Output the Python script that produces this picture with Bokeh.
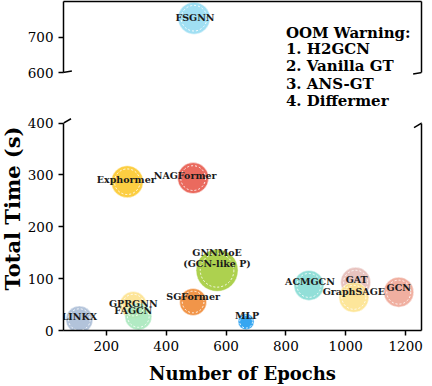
import math
from bokeh.plotting import figure
from bokeh.layouts import column, row
from bokeh.models import Range1d, LinearAxis, FixedTicker, Label, Arrow, ColumnDataSource
from bokeh.core.properties import value
from bokeh.embed import file_html
from bokeh.resources import INLINE

# ---------------- data ----------------
models = ["LINKX", "GPRGNN", "FAGCN", "Exphormer", "NAGFormer", "SGFormer",
          "GNNMoE\n(GCN-like P)", "MLP", "ACMGCN", "GAT", "GraphSAGE", "GCN", "FSGNN"]
epochs = [110, 290, 307, 270, 490, 490, 570, 667, 877, 1033, 1027, 1177, 493]
total_time = [21, 49, 27, 287, 294, 55, 116, 17, 87, 93, 64, 74, 753]
bubble_size = [27, 27, 27, 32, 31, 27, 42, 16, 30, 30, 30, 30, 32]
colors = ["#aabdd6", "#fde28e", "#a8e8bd", "#fcc92d", "#e85a4c", "#f08a35",
          "#a4cc3c", "#1f9cf0", "#86dcd4", "#e6bcb8", "#fde38f", "#eea696", "#96dcf2"]
x_ticks = [200, 400, 600, 800, 1000, 1200]
y_ticks_top = [600, 700]
y_ticks_bottom = [0, 100, 200, 300, 400]
oom_lines = ["OOM Warning:", "1. H2GCN", "2. Vanilla GT", "3. ANS-GT", "4. Differmer"]

# label pixel offsets (style)
label_dx = [0, 0, -5, -1, -8, 0, 0, 1, 1, 1, 0, 0, 1]
label_dy = [-3, -2, -6, -2, -3, -5, -12, -6, -4, -3, -6, -5, -1]

# ---------------- layout constants (pixels) ----------------
X0, X1 = 57, 1253            # x limits
LEFT_W = 24                  # strip holding the y title
MAIN_W = 432 - LEFT_W
BORDER_L, BORDER_R = 62 - LEFT_W, 11
TOP_BORDER = 1
SPLIT = 110                  # canvas y where the two panels meet
Y600, Y0_PX, Y400 = 72, 336, 123
TOP_PPU = (Y600 - TOP_BORDER) / 200.0        # px per unit, top panel
BOT_PPU = (Y0_PX - Y400) / 400.0             # px per unit, bottom panel
TOP_LO = 600 - (SPLIT - Y600) / TOP_PPU
BOT_HI = 400 + (Y400 - SPLIT) / BOT_PPU

TICK_FONT = "DejaVu Serif"
TITLE_FONT = "DejaVu Serif"


def make_source(keep):
    idx = [i for i, t in enumerate(total_time) if keep(t)]
    return ColumnDataSource(dict(
        x=[epochs[i] for i in idx], y=[total_time[i] for i in idx],
        s=[bubble_size[i] for i in idx], s_in=[bubble_size[i] * 0.8 for i in idx],
        c=[colors[i] for i in idx], name=[models[i] for i in idx],
        dx=[label_dx[i] for i in idx], dy=[label_dy[i] for i in idx]))


src_top = make_source(lambda t: t >= 600)
src_bot = make_source(lambda t: t < 600)


def style_axis(ax, ticks, bounds=None):
    ax.ticker = FixedTicker(ticks=ticks)
    if bounds is not None:
        ax.bounds = bounds
    ax.axis_line_color = "black"
    ax.axis_line_width = 1.5
    ax.major_tick_line_color = "black"
    ax.major_tick_line_width = 1.5
    ax.major_tick_out = 5
    ax.major_tick_in = 0
    ax.minor_tick_out = 0
    ax.minor_tick_in = 0
    ax.major_label_text_font = TICK_FONT
    ax.major_label_text_font_size = "13.5px"
    ax.major_label_text_color = "black"


def bare_axis(ax, bounds=None):
    ax.ticker = FixedTicker(ticks=[])
    if bounds is not None:
        ax.bounds = bounds
    ax.axis_line_color = "black"
    ax.axis_line_width = 1.5
    ax.major_tick_out = 0
    ax.major_tick_in = 0
    ax.minor_tick_out = 0
    ax.minor_tick_in = 0
    ax.major_label_standoff = 0
    ax.major_label_text_font_size = "0px"


def draw_points(p, src):
    p.scatter("x", "y", size="s", source=src, fill_color="c", fill_alpha=0.9,
              line_color="white", line_width=0.8, line_alpha=0.6)
    p.scatter("x", "y", size="s_in", source=src, fill_color=None,
              line_color="white", line_width=0.9, line_dash="2 2")
    p.text("x", "y", text="name", source=src, x_offset="dx", y_offset="dy",
           text_font=value(TITLE_FONT), text_font_style="bold",
           text_font_size="9.5px", text_color="#1a1a1a", text_align="center",
           text_baseline="middle", text_line_height=1.0)


def clean(p):
    p.outline_line_color = None
    p.grid.visible = False
    p.background_fill_color = None
    p.border_fill_color = None


# ---------------- top panel ----------------
top = figure(width=MAIN_W, height=SPLIT, output_backend="svg", toolbar_location=None,
             x_range=Range1d(X0, X1), y_range=Range1d(TOP_LO, 800),
             x_axis_location="above", min_border_left=BORDER_L,
             min_border_right=BORDER_R, min_border_top=TOP_BORDER,
             min_border_bottom=0)
clean(top)
bare_axis(top.xaxis[0])
style_axis(top.yaxis[0], y_ticks_top, bounds=(600, 800))
rt = LinearAxis()
bare_axis(rt, bounds=(600, 800))
top.add_layout(rt, "right")
draw_points(top, src_top)

oom_y = [800 - (cy - TOP_BORDER) / TOP_PPU for cy in (32, 48, 65, 83, 100)]
for t, yy in zip(oom_lines, oom_y):
    top.add_layout(Label(x=800, y=yy, text=t, text_font=TITLE_FONT,
                         text_font_style="bold", text_font_size="15px",
                         text_color="black", text_baseline="middle",
                         text_align="left"))

for xc in (X0, X1):
    top.add_layout(Arrow(end=None, x_start=xc - 28, y_start=600 - 4.2,
                         x_end=xc + 28, y_end=600 + 4.2,
                         line_color="black", line_width=1.5))

# ---------------- bottom panel ----------------
bot = figure(width=MAIN_W, height=386 - SPLIT, output_backend="svg",
             toolbar_location=None, x_range=top.x_range,
             y_range=Range1d(0, BOT_HI), min_border_left=BORDER_L,
             min_border_right=BORDER_R, min_border_top=0, min_border_bottom=50)
clean(bot)
style_axis(bot.xaxis[0], x_ticks)
style_axis(bot.yaxis[0], y_ticks_bottom, bounds=(0, 400))
xa = bot.xaxis[0]
xa.axis_label = "Number of Epochs"
xa.axis_label_text_font = TITLE_FONT
xa.axis_label_text_font_style = "bold"
xa.axis_label_text_font_size = "18px"
xa.axis_label_text_color = "black"
xa.axis_label_standoff = 9
rb = LinearAxis()
bare_axis(rb, bounds=(0, 400))
bot.add_layout(rb, "right")
draw_points(bot, src_bot)

for xc in (X0, X1):
    bot.add_layout(Arrow(end=None, x_start=xc - 25, y_start=400 - 8.5,
                         x_end=xc + 25, y_end=400 + 8.5,
                         line_color="black", line_width=1.5))

# ---------------- y title strip ----------------
ylab = figure(width=LEFT_W, height=386, output_backend="svg", toolbar_location=None,
              x_range=Range1d(0, LEFT_W), y_range=Range1d(0, 386),
              x_axis_location=None, y_axis_location=None,
              min_border_left=0, min_border_right=0, min_border_top=0,
              min_border_bottom=0)
clean(ylab)
ylab.add_layout(Label(x=12, y=386 - 208, text="Total Time (s)", angle=math.pi / 2,
                      text_font=TITLE_FONT, text_font_style="bold",
                      text_font_size="21px", text_color="black",
                      text_align="center", text_baseline="middle"))

layout = row(ylab, column(top, bot, spacing=0), spacing=0)
open("out.html", "w").write(file_html(layout, INLINE))
